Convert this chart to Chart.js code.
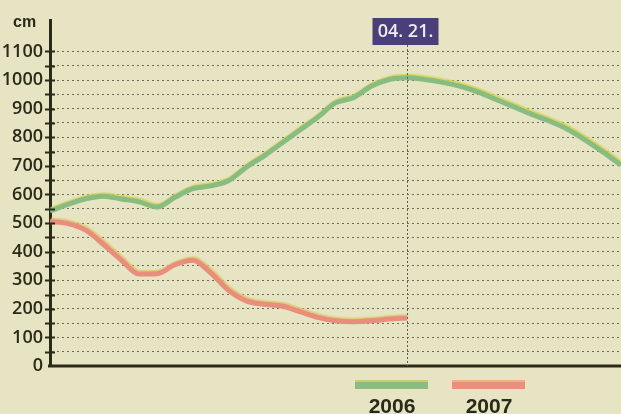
<!DOCTYPE html>
<html>
<head>
<meta charset="utf-8">
<script src="https://cdn.jsdelivr.net/npm/chart.js@4/dist/chart.umd.min.js"></script>
<style>
  html, body { margin: 0; padding: 0; background: #e6e4c3; }
  #wrap { width: 621px; height: 414px; position: relative; }
</style>
</head>
<body>
<div id="wrap"><canvas id="lineChart"></canvas></div>
<script>
// water level (cm), x = day index, 04.21. = day 40
const days2006 = [0, 2, 4, 6, 8, 10, 12, 14, 16, 18, 20, 22, 24, 26, 28, 30, 32, 34, 36, 38, 40, 42, 44, 46, 48, 50, 52, 54, 56, 58, 60, 62, 64];
const level2006 = [542, 565, 585, 594, 584, 574, 556, 590, 620, 630, 648, 695, 735, 780, 825, 870, 920, 938, 978, 1002, 1008, 1002, 992, 978, 958, 932, 906, 880, 856, 828, 790, 748, 702];
const days2007 = [0, 2, 4, 6, 8, 10, 12, 14, 16, 18, 20, 22, 24, 26, 28, 30, 32, 34, 36, 38, 40];
const level2007 = [505, 498, 475, 425, 370, 322, 323, 354, 370, 326, 265, 228, 216, 210, 190, 170, 158, 155, 158, 164, 168];
const seriesNames = ['2006', '2007'];
const markerDay = 40;
const markerLabel = '04. 21.';
const unitLabel = 'cm';

const ink = '#2a2a18';

const toPoints = (xs, ys) => xs.map((x, i) => ({ x: x, y: ys[i] }));

// yellow misregistration halo under the lines
const haloPlugin = {
    id: 'halo',
    beforeDatasetDraw: function(chart, args) {
        const ctx = chart.ctx;
        ctx.save();
        ctx.shadowColor = args.index === 0 ? 'rgba(212,210,80,0.85)' : 'rgba(222,196,100,0.8)';
        ctx.shadowOffsetX = 1;
        ctx.shadowOffsetY = -1.5;
        ctx.shadowBlur = 1;
    },
    afterDatasetDraw: function(chart) {
        chart.ctx.restore();
    }
};

const decorPlugin = {
    id: 'decor',
    afterDraw: function(chart) {
        const ctx = chart.ctx;
        const xs = chart.scales.x;
        const ys = chart.scales.y;
        const area = chart.chartArea;
        const y0 = ys.getPixelForValue(0);

        ctx.save();
        // cross ticks on the y axis
        ctx.strokeStyle = ink;
        ctx.lineWidth = 2;
        for (let v = 50; v <= 1100; v += 50) {
            const py = Math.round(ys.getPixelForValue(v)) + 0.5;
            ctx.beginPath();
            ctx.moveTo(area.left - 5, py);
            ctx.lineTo(area.left + 5, py);
            ctx.stroke();
        }
        // baseline
        ctx.lineWidth = 3;
        ctx.beginPath();
        ctx.moveTo(area.left - 2, y0);
        ctx.lineTo(chart.width, y0);
        ctx.stroke();

        // date marker
        const mx = Math.round(xs.getPixelForValue(markerDay)) + 0.5;
        ctx.strokeStyle = '#5e5e50';
        ctx.lineWidth = 1;
        ctx.setLineDash([2, 2]);
        ctx.beginPath();
        ctx.moveTo(mx, 45);
        ctx.lineTo(mx, y0);
        ctx.stroke();
        ctx.setLineDash([]);
        ctx.fillStyle = '#4a3f78';
        ctx.fillRect(mx - 35, 18, 66, 27);
        ctx.fillStyle = '#eeecf2';
        ctx.font = '600 18px "Open Sans"';
        ctx.textAlign = 'center';
        ctx.textBaseline = 'middle';
        ctx.fillText(markerLabel, mx - 2, 32);

        // unit
        ctx.fillStyle = ink;
        ctx.font = 'bold 16px "Liberation Sans"';
        ctx.textAlign = 'left';
        ctx.fillText(unitLabel, 13, 23);

        // legend
        const sw = [[355, '#8abd80', '#c9cf66'], [452, '#e98f7e', '#e4b87a']];
        chart.data.datasets.forEach(function(ds, i) {
            const lx = sw[i][0];
            ctx.fillStyle = sw[i][2];
            ctx.fillRect(lx, 380, 73, 3);
            ctx.fillStyle = sw[i][1];
            ctx.fillRect(lx, 382, 73, 7);
            ctx.fillStyle = ink;
            ctx.font = 'bold 21px "Liberation Sans", sans-serif';
            ctx.textAlign = 'center';
            ctx.textBaseline = 'alphabetic';
            ctx.fillText(ds.label, lx + 37, 413);
        });
        ctx.restore();
    }
};

const ctx = document.getElementById('lineChart').getContext('2d');
const chart = new Chart(ctx, {
    type: 'line',
    data: {
        datasets: [{
            label: seriesNames[0],
            data: toPoints(days2006, level2006),
            borderColor: '#88bc80',
            borderWidth: 5,
            pointRadius: 0,
            tension: 0.4,
            cubicInterpolationMode: 'monotone',
            clip: false
        }, {
            label: seriesNames[1],
            data: toPoints(days2007, level2007),
            borderColor: '#e98d7d',
            borderWidth: 5,
            pointRadius: 0,
            tension: 0.4,
            cubicInterpolationMode: 'monotone',
            clip: false
        }]
    },
    options: {
        responsive: true,
        maintainAspectRatio: false,
        animation: false,
        layout: {
            padding: { top: 20, bottom: 48, left: 0, right: 0 }
        },
        scales: {
            x: {
                type: 'linear',
                min: 0,
                max: 64,
                display: false
            },
            y: {
                min: 0,
                max: 1210,
                afterFit: function(scale) { scale.width = 50; },
                border: {
                    display: true,
                    color: ink,
                    width: 3,
                    dash: [2, 3]
                },
                grid: {
                    color: function(c) {
                        return (c.tick.value > 0 && c.tick.value <= 1100) ? '#6c6c5c' : 'rgba(0,0,0,0)';
                    },
                    lineWidth: 1,
                    drawTicks: true,
                    tickLength: 4,
                    tickColor: 'rgba(0,0,0,0)'
                },
                ticks: {
                    stepSize: 50,
                    autoSkip: false,
                    padding: 3,
                    color: ink,
                    font: { family: 'Open Sans', size: 18, weight: '600' },
                    callback: function(value) {
                        return (value % 100 === 0 && value <= 1100) ? value : '';
                    }
                }
            }
        },
        plugins: {
            legend: { display: false },
            tooltip: { enabled: false }
        }
    },
    plugins: [haloPlugin, decorPlugin]
});
</script>
</body>
</html>
